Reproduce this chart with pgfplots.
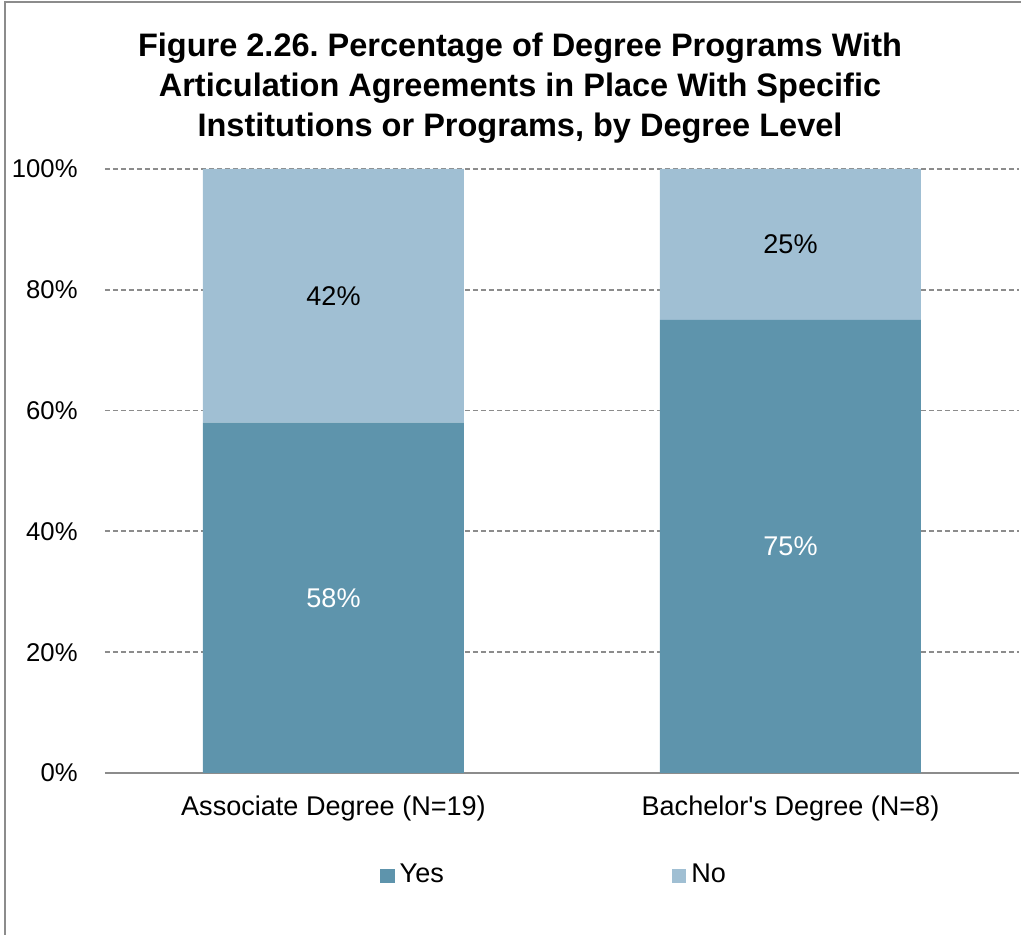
\documentclass[border=0pt]{standalone}
\usepackage{pgfplots}
\pgfplotsset{compat=1.18}
\usepackage{fontspec}
\setmainfont{Liberation Sans}
\frenchspacing
\definecolor{yescol}{HTML}{5E94AC}
\definecolor{nocol}{HTML}{A0BFD3}
\definecolor{gridcol}{HTML}{8C8C8C}
\pgfplotsset{geom/.style={at={(10.5mm,16.2mm)}, anchor=south west,
  scale only axis, width=91.4mm, height=60.4mm,
  xmin=-0.5, xmax=1.5, ymin=0, ymax=100}}
\begin{document}
\begin{tikzpicture}
\useasboundingbox (0,0) rectangle (102.1mm,93.5mm);
\draw[gridcol, line width=0.25mm] (0.5mm,0) -- (0.5mm,93.3mm) -- (102.1mm,93.3mm);
\node[align=center, font=\fontsize{9.25}{11.4}\selectfont\bfseries] at (52mm,84.7mm) {Figure 2.26. Percentage of Degree Programs With\\Articulation Agreements in Place With Specific\\Institutions or Programs, by Degree Level};
\begin{axis}[
  geom,
  ybar stacked, bar width=26.1mm,
  xtick={0,1}, xticklabels={Associate Degree (N=19), Bachelor\textquotesingle s Degree (N=8)},
  ytick={20,40,60,80,100},
  extra y ticks={0},
  extra y tick style={major grid style={solid, gridcol, line width=0.25mm}},
  ymajorgrids,
  major grid style={gridcol, line width=0.18mm, dash pattern=on 0.5mm off 0.3mm},
  axis line style={draw=none},
  major tick length=0pt,
  /pgf/number format/assume math mode=true,
  yticklabel={\pgfmathprintnumber{\tick}\%},
  yticklabel style={font=\fontsize{7.3}{9}\selectfont, xshift=-1.5mm},
  xticklabel style={font=\fontsize{7.7}{9}\selectfont, yshift=-1.0mm},
  legend style={at={(0.493,-0.1706)}, anchor=center, draw=none, fill=none, legend columns=2,
    font=\fontsize{7.7}{9}\selectfont, nodes={inner sep=0.5mm},
    /tikz/every even column/.append style={column sep=22.3mm}},
  legend image code/.code={\fill[#1] (0mm,-0.7mm) rectangle (1.45mm,0.7mm);},
]
\addplot[fill=yescol, draw=none] coordinates {(0,58) (1,75)};
\addlegendentry{Yes}
\addplot[fill=nocol, draw=none] coordinates {(0,42) (1,25)};
\addlegendentry{No}
\end{axis}
\begin{axis}[
  geom, hide axis,
  nodes near coords, point meta=explicit symbolic,
  every node near coord/.append style={anchor=center, font=\fontsize{7.7}{9}\selectfont},
]
\addplot[only marks, mark=none, nodes near coords style={text=white}] coordinates {(0,29) [58\%] (1,37.5) [75\%]};
\addplot[only marks, mark=none, nodes near coords style={text=black}] coordinates {(0,79) [42\%] (1,87.5) [25\%]};
\end{axis}
\end{tikzpicture}
\end{document}
